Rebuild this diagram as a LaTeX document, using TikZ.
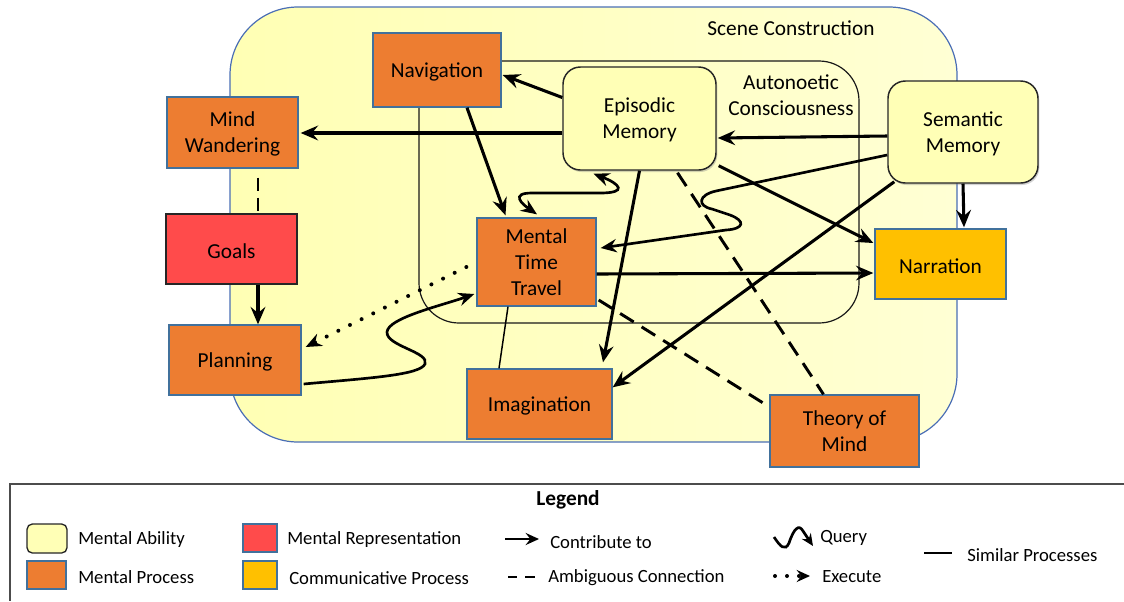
\documentclass[tikz,border=0pt]{standalone}
\usepackage{fontspec}
\setmainfont{Carlito}
\usetikzlibrary{arrows.meta,calc,shadows}
\definecolor{orangeP}{HTML}{ED7D31}
\definecolor{redR}{HTML}{FF4B4B}
\definecolor{yelC}{HTML}{FFC000}
\definecolor{abilityY}{HTML}{FFFFB6}
\definecolor{pborder}{HTML}{41719C}
\definecolor{sceneB}{HTML}{4A6EB5}
\definecolor{sceneA}{HTML}{FFFFB4}
\definecolor{sceneC}{HTML}{FFFFD4}
\begin{document}
\begin{tikzpicture}[x=0.75pt,y=-0.75pt,
  nodefont/.style={font=\fontsize{16}{19.5}\selectfont, execute at begin node={\rule{0pt}{14.5pt}}},
  mline/.style={text depth=-1.5pt},
  legfont/.style={font=\fontsize{14}{17}\selectfont},
  proc/.style={draw=pborder, line width=1pt, fill=orangeP, align=center, nodefont, inner sep=0pt},
  reprbox/.style={draw=black!85, line width=1pt, fill=redR, align=center, nodefont, inner sep=0pt},
  commbox/.style={draw=pborder, line width=1pt, fill=yelC, align=center, nodefont, inner sep=0pt},
  abilitybox/.style={draw=black!85, line width=1.1pt, fill=abilityY, rounded corners=13pt, align=center, nodefont, inner sep=0pt,
     drop shadow={opacity=0.35, shadow xshift=1pt, shadow yshift=-1.5pt}},
  arr/.style={line width=2.3pt, -{Stealth[length=13pt,width=11pt,inset=4.5pt]}},
  qarr/.style={line width=2pt, -{Stealth[length=12pt,width=10pt,inset=4pt]}},
  qarrb/.style={line width=2pt, {Stealth[length=12pt,width=10pt,inset=4pt]}-{Stealth[length=12pt,width=10pt,inset=4pt]}},
  ambig/.style={line width=2.2pt, dash pattern=on 12pt off 7pt},
  execarr/.style={line width=3pt, line cap=round, dash pattern=on 0pt off 9.75pt, -{Stealth[length=12pt,width=10pt,inset=4pt]}},
  simline/.style={line width=1.1pt},
  larr/.style={line width=2.2pt, -{Stealth[length=10pt,width=9pt,inset=3.5pt]}},
  lab/.style={legfont, inner sep=0pt, anchor=west, yshift=-1.5pt},
]
\useasboundingbox (0,0) rectangle (1124,601);

% Scene construction region
\draw[draw=sceneB, line width=0.9pt, left color=sceneA, right color=sceneC, rounded corners=51pt] (230,7) rectangle (957,442);
% Autonoetic consciousness region
\draw[line width=0.9pt, black!90, rounded corners=30pt] (419,61) rectangle (859,323);

\node[font=\fontsize{16}{19.5}\selectfont] (scl) at (791,28) {Scene Construction};
\node[font=\fontsize{16}{19.5}\selectfont, align=center] (acl) at (791,95) {Autonoetic\\Consciousness};

% nodes
\node[proc, minimum width=96pt, minimum height=55.5pt] (nav) at (437,70) {Navigation};
\node[proc, mline, minimum width=98.25pt, minimum height=53.25pt] (mw) at (232.5,132.5) {Mind\\Wandering};
\node[reprbox, minimum width=98.25pt, minimum height=52.5pt] (goals) at (231.5,249) {Goals};
\node[proc, minimum width=99pt, minimum height=52.5pt] (plan) at (235,360) {Planning};
\node[abilitybox, mline, minimum width=114.75pt, minimum height=77.25pt] (epi) at (639.5,118.5) {Episodic\\Memory};
\node[abilitybox, mline, minimum width=112.5pt, minimum height=76.5pt] (sem) at (963,132) {Semantic\\Memory};
\node[proc, mline, minimum width=89.25pt, minimum height=66pt] (mtt) at (536.5,262) {Mental\\Time\\Travel};
\node[commbox, minimum width=98.25pt, minimum height=52.5pt] (narr) at (940.5,264) {Narration};
\node[proc, minimum width=108.75pt, minimum height=52.5pt] (imag) at (539.5,404) {Imagination};
\node[proc, mline, minimum width=111.75pt, minimum height=54pt] (tom) at (844.5,431) {Theory of\\Mind};

% contribute-to arrows
\draw[arr] ($(epi.west)+(0,-21)$) -- ($(nav.east)+(1,5)$);
\draw[arr] ($(epi.west)+(0,14.5)$) -- ($(mw.east)+(2,0.5)$);
\draw[arr] ($(sem.west)+(0,4)$) -- ($(epi.east)+(1,19.5)$);
\draw[arr] ($(nav.south)+(30,0)$) -- ($(mtt.north)+(-31,-2)$);
\draw[arr] ($(epi.south east)+(2,-5)$) -- ($(narr.west)+(-1,-21)$);
\draw[arr] ($(mtt.east)+(0,12)$) -- ($(narr.west)+(-1,9)$);
\draw[arr] ($(sem.south west)+(7,-2)$) -- ($(imag.north east)+(0,19)$);
\draw[arr] (epi.south) -- ($(imag.north)+(63.5,-6)$);
\draw[arr] (sem.south) -- ($(narr.north)+(23.5,-1)$);
\draw[arr] ($(goals.south)+(26.5,0)$) -- ($(plan.north)+(23,0)$);

% ambiguous connections
\draw[ambig] ($(epi.south)+(38,2)$) -- ($(tom.north)+(-21,0)$);
\draw[ambig] ($(mtt.east)+(2,38)$) -- ($(tom.west)+(-3,-26)$);
\draw[line width=2.2pt, dash pattern=on 9.75pt off 5.25pt] ($(mw.south)+(25.5,9)$) -- ($(goals.north)+(26.5,0)$);

% queries
\draw[qarrb] ($(mtt.north)+(0.5,-3)$) .. controls (522,204) and (510,193) .. (532,193)
   -- (600,193) .. controls (628,193) and (620,184) .. ($(epi.south)+(-46,3)$);
\draw[qarr] ($(sem.west)+(0,23)$) -- (716,191) .. controls (698,195) and (697,206) .. (712,209)
   -- (730,215) .. controls (746,221) and (744,229) .. (726,230) -- ($(mtt.east)+(4,-14)$);
\draw[qarr] ($(plan.east)+(2,24)$) .. controls (370,378) and (420,375) .. (425,364)
   .. controls (430,352) and (386,346) .. (387,332) .. controls (388,318) and (440,306) .. ($(mtt.west)+(-2,32)$);

% execute
\draw[execarr] ($(mtt.west)+(-10,5)$) -- ($(plan.east)+(4,-13)$);

% similar processes
\draw[simline] ($(mtt.south)+(-28.5,0)$) -- ($(imag.north)+(-40.5,0)$);

% Legend
\draw[line width=0.8pt, black!70] (1124,484) -- (10,484) -- (10,601);
\node[font=\fontsize{16}{19}\selectfont\bfseries] (legt) at (568,500) {Legend};

\node[draw=black!85, line width=1pt, fill=abilityY, rounded corners=4pt, minimum width=30pt, minimum height=21.75pt, inner sep=0pt] (sw1) at (47,538.5) {};
\node[lab] (l1) at (78,538) {Mental Ability};
\node[draw=pborder, line width=1pt, fill=orangeP, minimum width=29.25pt, minimum height=21pt, inner sep=0pt] (sw2) at (46.5,575) {};
\node[lab] (l2) at (78,575) {Mental Process};
\node[draw=pborder, line width=1pt, fill=redR, minimum width=25.5pt, minimum height=21pt, inner sep=0pt] (sw3) at (260,538) {};
\node[lab] (l3) at (287,538) {Mental Representation};
\node[draw=pborder, line width=1pt, fill=yelC, minimum width=25.5pt, minimum height=21pt, inner sep=0pt] (sw4) at (260,575) {};
\node[lab] (l4) at (289,576) {Communicative Process};

\coordinate (ca) at (505,539);
\coordinate (cb) at (539,539);
\draw[larr] (ca) -- (cb);
\node[lab] (l5) at (550,540) {Contribute to};

\coordinate (da) at (508,577);
\coordinate (db) at (541,577);
\draw[line width=2.2pt, dash pattern=on 7pt off 6pt] (da) -- (db);
\node[lab] (l6) at (548,576) {Ambiguous Connection};

\coordinate (qa) at (774,537);
\coordinate (qb) at (813,546);
\draw[line width=2pt, -{Stealth[length=9pt,width=8pt,inset=3pt]}] (qa) .. controls (780,546) and (785,552) .. (789,543)
   .. controls (794,528) and (799,524) .. (803,531) -- (qb);
\node[lab] (l7) at (820,536) {Query};

\coordinate (ea) at (775,576);
\coordinate (eb) at (810,576);
\draw[line width=3pt, line cap=round, dash pattern=on 0pt off 9pt, -{Stealth[length=10pt,width=9pt,inset=3.5pt]}] (ea) -- (eb);
\node[lab] (l8) at (822,575) {Execute};

\coordinate (sa) at (924,553);
\coordinate (sb) at (952,553);
\draw[simline] (sa) -- (sb);
\node[lab] (l9) at (967,553) {Similar Processes};
\end{tikzpicture}
\end{document}
